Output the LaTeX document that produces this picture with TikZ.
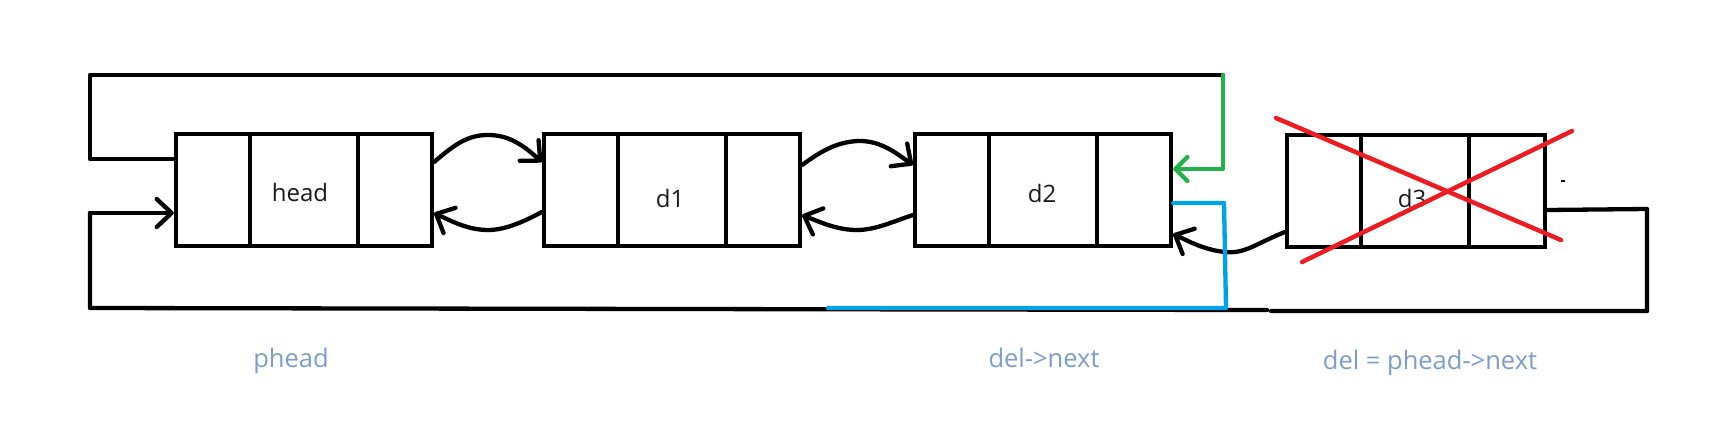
\documentclass[tikz,border=0pt]{standalone}
\usepackage{fontspec}
\setmainfont{Open Sans}
\usetikzlibrary{arrows.meta}
\definecolor{lbl}{HTML}{7F9DCB}
\definecolor{grn}{HTML}{22B14C}
\definecolor{blu}{HTML}{00A2E8}
\definecolor{rd}{HTML}{ED1C24}
\definecolor{txt}{HTML}{1A1A1A}
\tikzset{
  cellbox/.style={draw, line width=4.3pt, rectangle, minimum width=256pt, minimum height=112pt, inner sep=0pt},
  wire/.style={line width=4.3pt, line cap=round, line join=round},
  barb/.style={-{Straight Barb[length=15pt,width=28pt,round]}},
  smallbarb/.style={-{Straight Barb[length=12pt,width=24pt,round]}},
  celltext/.style={font=\fontsize{24pt}{28pt}\selectfont, text=txt},
  lab/.style={font=\fontsize{25.5pt}{30pt}\selectfont, text=lbl}
}
\begin{document}
\begin{tikzpicture}[x=1pt,y=-1pt]
\useasboundingbox (0,0) rectangle (1736,426);
% boxes
\node[cellbox] (head) at (304,190) {};
\node[cellbox] (d1) at (672,190) {};
\node[cellbox] (d2) at (1043,190) {};
\node[cellbox, minimum width=258pt] (d3) at (1416,191) {};
\foreach \b in {head,d1,d2,d3}{
  \draw[line width=4.3pt] ([xshift=76pt]\b.north west) -- ([xshift=76pt]\b.south west);
  \draw[line width=4.3pt] ([xshift=184pt]\b.north west) -- ([xshift=184pt]\b.south west);
}
% texts
\node[celltext] (thead) at (300,192) {head};
\node[celltext] (td1) at (670,198) {d1};
\node[celltext] (td2) at (1042,193) {d2};
\node[celltext] (td3) at (1412,198) {d3};
% coordinates
\coordinate (tl) at (90,75);
\coordinate (tr) at (1223,75);
\coordinate (gc) at (1223,169);
\coordinate (bl) at (90,308);
\coordinate (bla) at (90,213);
\coordinate (br) at (1647,311);
\coordinate (rr) at (1647,209);
\coordinate (gapL) at (1267,310);
\coordinate (gapR) at (1271,311);
\coordinate (b1) at (1224,203);
\coordinate (b2) at (1226,308);
\coordinate (b3) at (828,308);
\coordinate (p1) at (488,135);
\coordinate (p2) at (488,230);
\coordinate (p3) at (860,141);
\coordinate (p4) at (857,230);
% outer loop lines
\draw[wire] ([yshift=31pt]head.west) -- (90,159) -- (tl) -- (tr);
\draw[wire] ([yshift=-19pt]d3.east) -- (rr) -- (br) -- (gapR);
\draw[wire] (gapL) -- (bl) -- (bla);
\draw[wire, barb] (bla) -- ([yshift=-23pt]head.west);
% links head <-> d1
\draw[wire, barb] ([yshift=28pt]head.east) .. controls (455,144) and (468,135) .. (p1) .. controls (508,135) and (522,144) .. ([yshift=28pt]d1.west);
\draw[wire, barb] ([yshift=-22pt]d1.west) .. controls (525,221) and (506,230) .. (p2) .. controls (470,230) and (455,223) .. ([yshift=-23pt]head.east);
% links d1 <-> d2
\draw[wire, barb] ([yshift=25pt]d1.east) .. controls (822,150) and (840,141) .. (p3) .. controls (880,141) and (895,152) .. ([yshift=25pt]d2.west);
\draw[wire, barb] ([yshift=-25pt]d2.west) .. controls (892,222) and (875,230) .. (p4) .. controls (838,230) and (822,223) .. ([yshift=-25pt]d1.east);
% d3 -> d2
\draw[wire, barb] ([yshift=-41pt]d3.west) .. controls (1255,244) and (1245,254) .. (1225,252) .. controls (1205,250) and (1190,242) .. ([yshift=-44pt]d2.east);
% green
\draw[wire, grn, smallbarb] (tr) -- (gc) -- ([yshift=21pt]d2.east);
% blue
\draw[wire, blu] ([yshift=-13pt]d2.east) -- (b1) -- (b2) -- (b3);
% red cross
\draw[line width=4.5pt, rd, line cap=round] (1276,118) -- (1561,240);
\draw[line width=4.5pt, rd, line cap=round] (1302,262) -- (1572,131);
% small mark
\draw[line width=2pt] (1561,181) -- (1565,181);
% labels
\node[lab] (lphead) at (291,361) {phead};
\node[lab] (ldelnext) at (1044,358) {del->next};
\node[lab] (ldel) at (1430,363) {del = phead->next};
\end{tikzpicture}
\end{document}
